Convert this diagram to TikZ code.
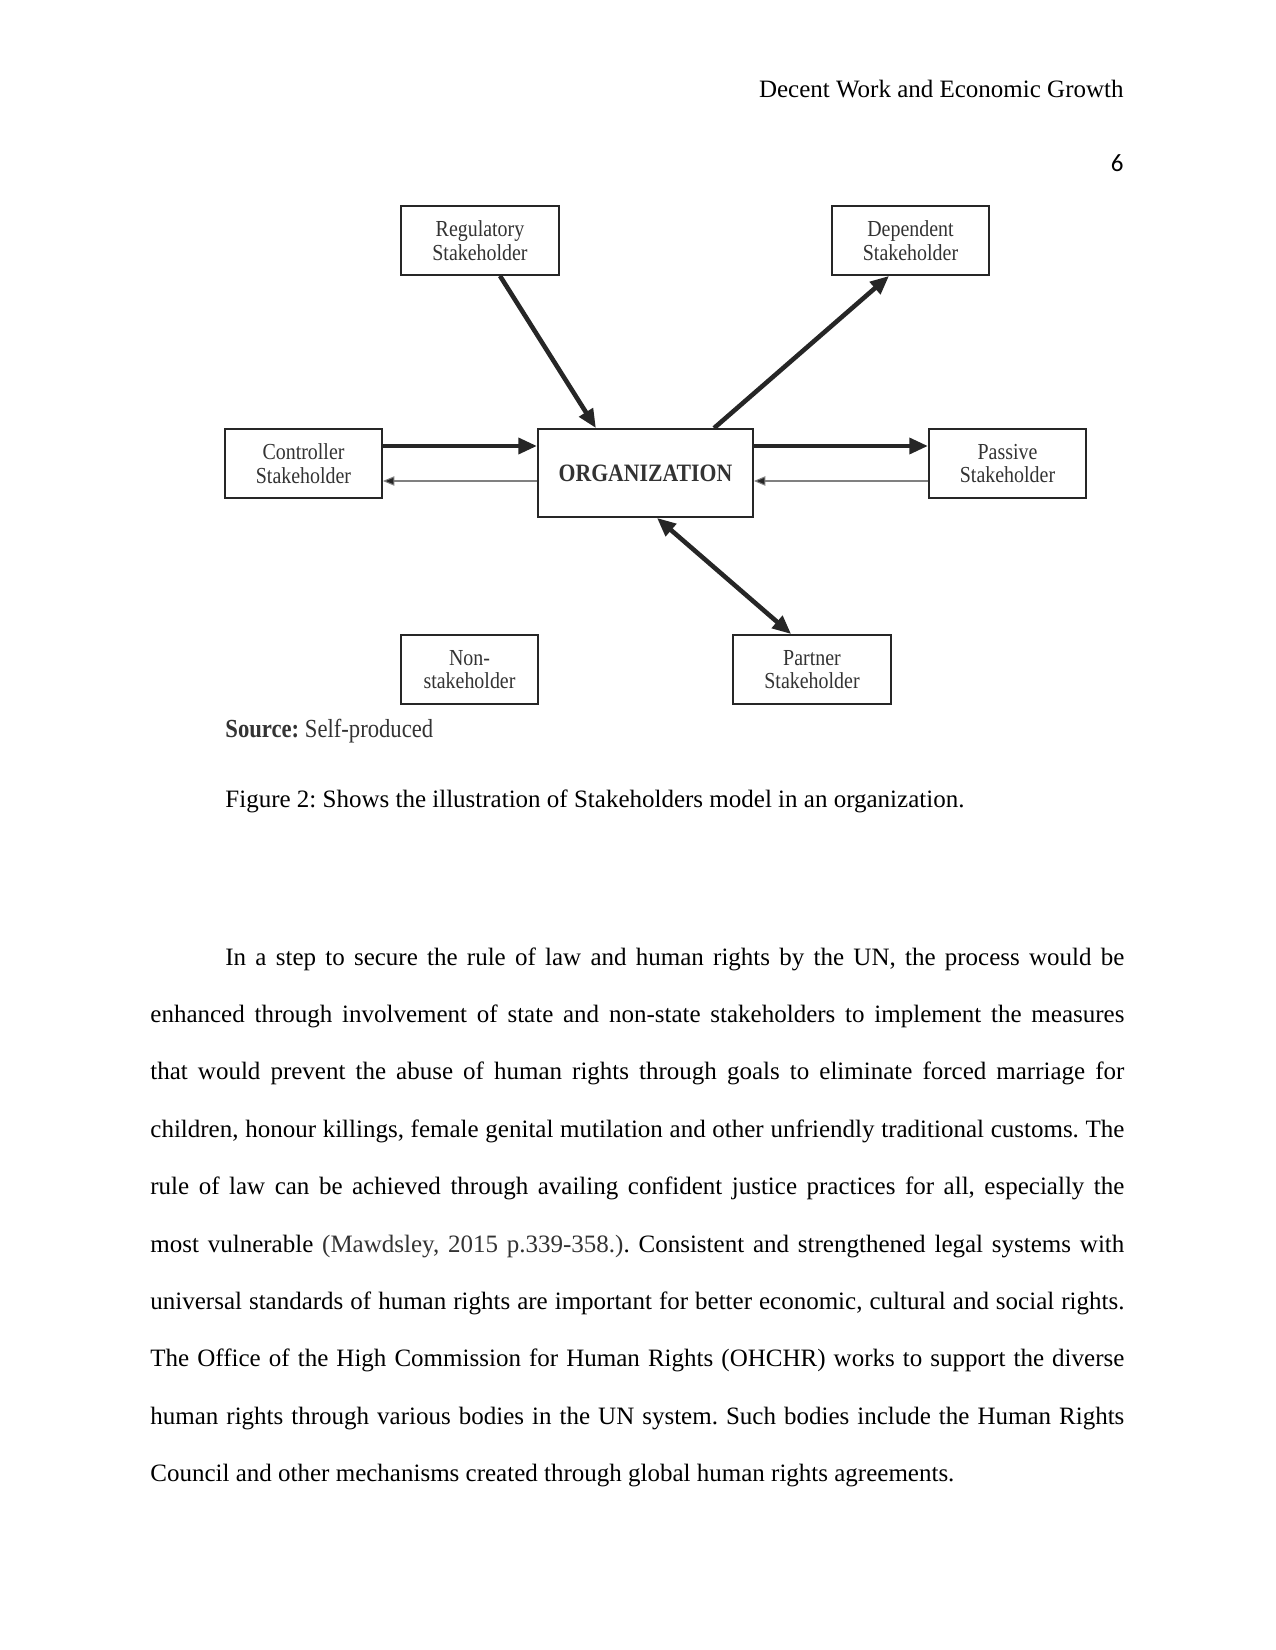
\documentclass[tikz,border=0pt]{standalone}
\usepackage{fontspec}
\setmainfont{Liberation Serif}
\newfontfamily\figfont{Liberation Serif}[FakeStretch=0.87]
\newfontfamily\numfont{Carlito}
\usetikzlibrary{arrows.meta,calc}
\definecolor{ink}{HTML}{262626}
\definecolor{figtext}{HTML}{333333}
\definecolor{thinline}{HTML}{808080}
\frenchspacing
\begin{document}
\frenchspacing
\begin{tikzpicture}[x=0.48pt,y=-0.48pt,
  box/.style={draw=ink,line width=0.9pt,rectangle,inner sep=0pt,align=center,
    font=\figfont\fontsize{11}{11.3}\selectfont,text=figtext},
  thick arrow/.style={draw=ink,line width=2.2pt,-{Triangle[length=9pt,width=7.5pt]}},
  both arrow/.style={draw=ink,line width=2.2pt,{Triangle[length=9pt,width=7.5pt]}-{Triangle[length=9pt,width=7.5pt]}},
  thin arrow/.style={draw=thinline,line width=0.5pt,-{Triangle[length=5.5pt,width=4.5pt,fill=ink]}},
  bodyline/.style={anchor=base west,inner sep=0pt,font=\frenchspacing\fontsize{12}{14}\selectfont}]
\useasboundingbox[fill=white] (0,0) rectangle (1275,1650);

% header
\node[anchor=base east,inner sep=0pt,font=\fontsize{12}{14}\selectfont] (hdr) at (1124,98) {Decent Work and Economic Growth};
\node[anchor=base east,inner sep=0pt,font=\numfont\fontsize{12}{14}\selectfont] (pg) at (1124,172) {6};

% diagram boxes
\node[box,minimum width=75.8pt,minimum height=33.1pt] (reg) at (480,240.5) {Regulatory\\Stakeholder};
\node[box,minimum width=75.4pt,minimum height=33.1pt] (dep) at (910.5,240.5) {Dependent\\Stakeholder};
\node[box,minimum width=75.4pt,minimum height=33.1pt] (con) at (303.5,463.5) {Controller\\Stakeholder};
\node[box,minimum width=103.2pt,minimum height=42.2pt,font=\figfont\bfseries\fontsize{12}{14}\selectfont] (org) at (645.5,473) {ORGANIZATION};
\node[box,minimum width=75.4pt,minimum height=33.1pt] (pas) at (1007.5,463.5) {Passive\\Stakeholder};
\node[box,minimum width=65.8pt,minimum height=33.1pt] (non) at (469.5,669.5) {Non-\\stakeholder};
\node[box,minimum width=75.8pt,minimum height=33.1pt] (par) at (812,669.5) {Partner\\Stakeholder};

% connectors
\draw[thick arrow] ([xshift=9.6pt]reg.south) -- ([xshift=-23.8pt]org.north);
\draw[thick arrow] ([xshift=32.9pt]org.north) -- ([xshift=-10.3pt]dep.south);
\draw[thick arrow] ([yshift=8.4pt]con.east) -- ([yshift=8.4pt]con.east -| org.west);
\draw[thin arrow] ([yshift=-8.4pt]con.east -| org.west) -- ([yshift=-8.4pt]con.east);
\draw[thick arrow] ([yshift=8.4pt]pas.west -| org.east) -- ([yshift=8.4pt]pas.west);
\draw[thin arrow] ([yshift=-8.4pt]pas.west) -- ([yshift=-8.4pt]pas.west -| org.east);
\draw[both arrow] ([xshift=5.5pt]org.south) -- ([xshift=-10pt]par.north);

% source and caption
\node[anchor=base west,inner sep=0pt,text=figtext,font=\figfont\fontsize{12.5}{14}\selectfont] (src) at (225,737) {\textbf{Source:} Self-produced};
\node[anchor=base west,inner sep=0pt,font=\frenchspacing\fontsize{12}{14}\selectfont] (cap) at (225,807) {Figure 2: Shows the illustration of Stakeholders model in an organization.};

% body text
\node[bodyline] (l1) at (225,965) {\makebox[431.5pt][s]{In a step to secure the rule of law and human rights by the UN, the process would be}};
\node[bodyline] (l2) at (150,1022.4) {\makebox[467.5pt][s]{enhanced through involvement of state and non-state stakeholders to implement the measures}};
\node[bodyline] (l3) at (150,1079.8) {\makebox[467.5pt][s]{that would prevent the abuse of human rights through goals to eliminate forced marriage for}};
\node[bodyline] (l4) at (150,1137.2) {\makebox[467.5pt][s]{children, honour killings, female genital mutilation and other unfriendly traditional customs. The}};
\node[bodyline] (l5) at (150,1194.6) {\makebox[467.5pt][s]{rule of law can be achieved through availing confident justice practices for all, especially the}};
\node[bodyline] (l6) at (150,1252) {\makebox[467.5pt][s]{most vulnerable \textcolor{figtext}{(Mawdsley, 2015 p.339-358.)}. Consistent and strengthened legal systems with}};
\node[bodyline] (l7) at (150,1309.4) {\makebox[467.5pt][s]{universal standards of human rights are important for better economic, cultural and social rights.}};
\node[bodyline] (l8) at (150,1366.8) {\makebox[467.5pt][s]{The Office of the High Commission for Human Rights (OHCHR) works to support the diverse}};
\node[bodyline] (l9) at (150,1424.2) {\makebox[467.5pt][s]{human rights through various bodies in the UN system. Such bodies include the Human Rights}};
\node[bodyline] (l10) at (150,1481.6) {Council and other mechanisms created through global human rights agreements.};
\end{tikzpicture}
\end{document}
